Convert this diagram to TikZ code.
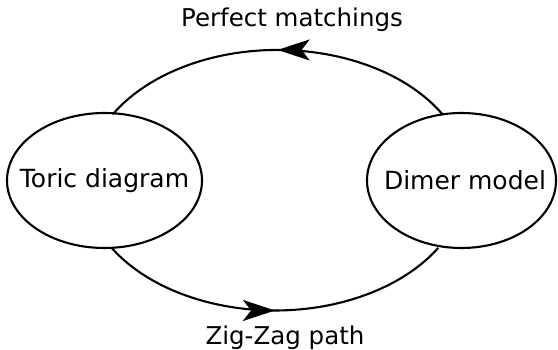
\documentclass[tikz,border=0pt]{standalone}
\usepackage{fontspec}
\setmainfont{DejaVu Sans}
\usetikzlibrary{arrows.meta,decorations.markings,shapes.geometric}

\tikzset{
  blob/.style={ellipse, draw, line width=2.1pt, inner sep=0pt, outer sep=0pt,
    minimum height=135pt, font=\fontsize{25}{30}\selectfont},
  flow/.style={line width=2.1pt, postaction={decorate},
    decoration={markings, mark=at position 0.5 with
      {\arrow{Stealth[length=32pt,width=21pt,inset=8pt]}}}},
  caption/.style={anchor=base, inner sep=0pt, font=\fontsize{24.5}{29}\selectfont}
}

\begin{document}
\begin{tikzpicture}[x=1pt,y=1pt]
  \useasboundingbox (0,0) rectangle (558,350);

  % the two descriptions (text kept out of the ellipse size)
  \node[blob, minimum width=195pt] (toric) at (104.5,169.5) {\makebox[0pt]{Toric diagram}};
  \node[blob, minimum width=189pt] (dimer) at (461.5,169.5) {\makebox[0pt]{\hspace{7pt}Dimer model}};

  % maps between them
  \draw[flow] (dimer.106) arc[start angle=30.3, end angle=149.7, x radius=191, y radius=130];
  \draw[flow] (toric.-84) arc[start angle=211.2, end angle=328.8, x radius=191, y radius=130];

  \node[caption] (pm) at (292,323) {Perfect matchings};
  \node[caption] (zz) at (285,5) {Zig-Zag path};
\end{tikzpicture}
\end{document}
